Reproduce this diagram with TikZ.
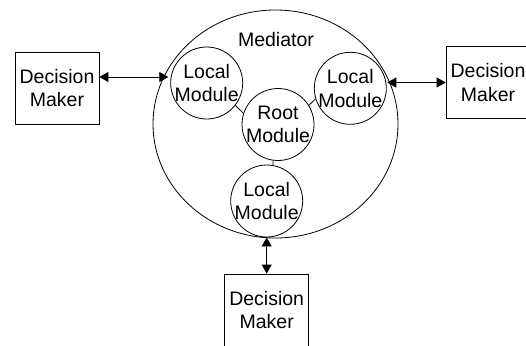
\documentclass[tikz,border=0pt]{standalone}
\usepackage{fontspec}
\setmainfont{Liberation Sans}
\usetikzlibrary{shapes.geometric,arrows.meta}

\begin{document}
\begin{tikzpicture}[x=1pt,y=-1pt,
    line width=0.8pt,
    every node/.style={font=\fontsize{19.5}{23.5}\selectfont},
    dmbox/.style={draw, rectangle, minimum width=84pt, minimum height=72pt,
                  inner sep=0pt, align=center},
    modcircle/.style={draw, circle, minimum size=72pt, inner sep=0pt},
    modtext/.style={align=center, inner sep=0pt},
    medshape/.style={draw, ellipse, minimum width=245pt, minimum height=228pt, inner sep=0pt},
    link/.style={line width=0.8pt},
    dblarrow/.style={{Triangle[length=9pt,width=10pt]}-{Triangle[length=9pt,width=10pt]}}
  ]
  \useasboundingbox (0,0) rectangle (526,345);
  \clip (0,0) rectangle (526,345);

  % mediator and its modules
  \node[medshape] (med) at (275.5,124) {};
  \node (medlabel) at (276,39.5) {Mediator};

  \node[modcircle, label={[modtext]center:Local\\Module}] (lmA) at (206.7,83) {};
  \node[modcircle, label={[modtext]center:Local\\Module}] (lmB) at (350.3,88.3) {};
  \node[modcircle, label={[modtext]center:Root\\Module}] (root) at (278,124.5) {};
  \node[modcircle, label={[modtext]center:Local\\Module}] (lmC) at (266.7,201) {};

  \draw[link] (lmA.-38) -- (root.162);
  \draw[link] (lmB.-163) -- (root.32);
  \draw[link] (lmC.80.4) -- (root.-98.5);

  % decision makers
  \node[dmbox] (dmL) at (57,88) {Decision\\Maker};
  \node[dmbox] (dmR) at (488,82.5) {Decision\\Maker};
  \node[dmbox] (dmB) at (266.7,310) {Decision\\Maker};

  \coordinate (tipL) at (168.3,77);
  \coordinate (tipR) at (387.3,82.5);

  \draw[dblarrow] (dmL.east |- tipL) -- (tipL);
  \draw[dblarrow] (dmR.west) -- (tipR);
  \draw[dblarrow] (dmB.north) -- (lmC.south);
\end{tikzpicture}
\end{document}
